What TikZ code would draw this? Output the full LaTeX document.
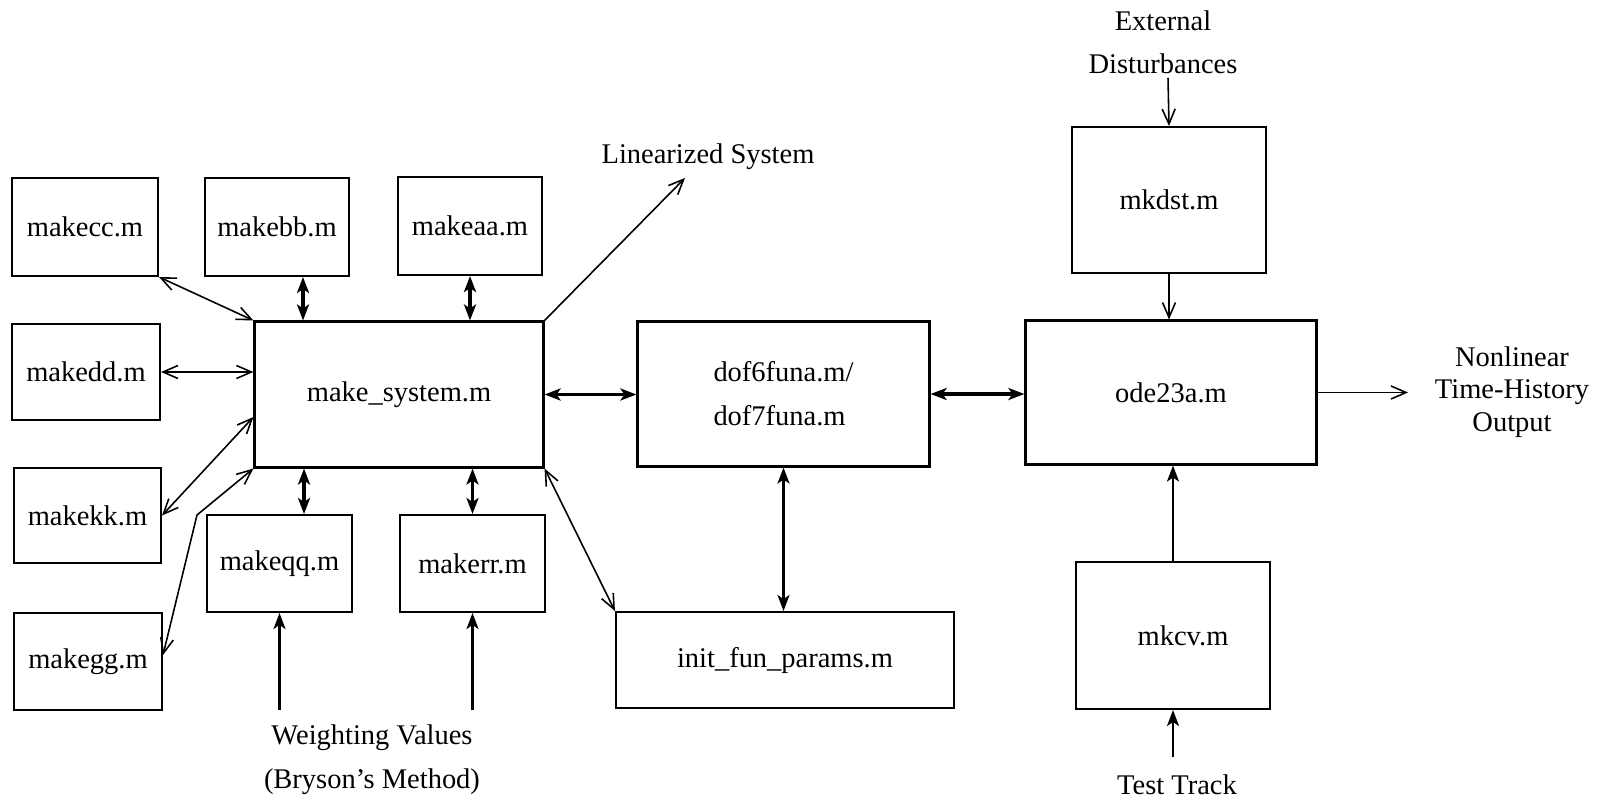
\documentclass[tikz,border=0pt]{standalone}
\usepackage{fontspec}
\setmainfont{Liberation Serif}
\usetikzlibrary{arrows.meta,calc}
\begin{document}
\begin{tikzpicture}[
  x=0.01cm, y=-0.01cm,
  every node/.style={font=\fontsize{8.1}{12.5}\selectfont},
  box/.style={draw, line width=0.55pt, inner sep=0pt, align=center},
  mainbox/.style={box, line width=0.85pt},
  lbl/.style={inner sep=0pt, align=center},
  thinhead/.tip={Straight Barb[length=0.15cm,width=0.13cm,line width=0.45pt]},
  boldhead/.tip={Stealth[length=0.16cm,width=0.12cm,inset=0.04cm]},
  thinarr/.style={line width=0.45pt, thinhead-thinhead},
  thinone/.style={line width=0.45pt, -thinhead},
  boldarr/.style={line width=1.0pt, boldhead-boldhead},
  medarr/.style={line width=0.7pt, boldhead-boldhead},
  medone/.style={line width=0.7pt, -boldhead}
]
\useasboundingbox (0,0) rectangle (1600,800);

% boxes
\node[box, minimum width=1.46cm, minimum height=0.98cm] (cc) at (85,227) {makecc.m};
\node[box, minimum width=1.44cm, minimum height=0.98cm] (bb) at (277,227) {makebb.m};
\node[box, minimum width=1.44cm, minimum height=0.98cm] (aa) at (470,226) {makeaa.m};
\node[box, minimum width=1.48cm, minimum height=0.96cm] (dd) at (86,372) {makedd.m};
\node[box, minimum width=1.47cm, minimum height=0.95cm] (kk) at (87.5,515.5) {makekk.m};
\node[box, minimum width=1.48cm, minimum height=0.97cm] (gg) at (88,661.5) {makegg.m};
\node[mainbox, minimum width=2.88cm, minimum height=1.45cm] (sys) at (399,394.5) {make\_system.m};
\node[box, minimum width=1.45cm, minimum height=0.97cm] (qq) at (279.5,563.5) {makeqq.m};
\node[box, minimum width=1.45cm, minimum height=0.97cm] (rr) at (472.5,563.5) {makerr.m};
\node[mainbox, minimum width=2.91cm, minimum height=1.44cm, align=left] (dof) at (783.5,394) {dof6funa.m/\\dof7funa.m};
\node[box, minimum width=3.38cm, minimum height=0.96cm] (init) at (785,660) {init\_fun\_params.m};
\node[box, minimum width=1.94cm, minimum height=1.46cm] (dst) at (1169,200) {mkdst.m};
\node[mainbox, minimum width=2.90cm, minimum height=1.43cm] (ode) at (1171,392.5) {ode23a.m};
\node[box, minimum width=1.94cm, minimum height=1.47cm] (cv) at (1173,635.5) {\hspace*{0.2cm}mkcv.m};

% free labels
\node[lbl] (lintext) at (708,157) {Linearized System};
\node[lbl, font=\fontsize{8.1}{12.2}\selectfont] (exttext) at (1163,42.5) {External\\Disturbances};
\node[lbl, font=\fontsize{8.1}{9.25}\selectfont] (outtext) at (1512,392) {Nonlinear\\Time-History\\Output};
\node[lbl, font=\fontsize{8.1}{12.5}\selectfont] (wtext) at (372,760) {Weighting Values\\(Bryson’s Method)};
\node[lbl] (tttext) at (1177,785) {Test Track};

% free ends
\coordinate (lin) at (685,178);
\coordinate (extend) at (1168,78);
\coordinate (outend) at (1408,392.5);
\coordinate (w1) at (279.5,710);
\coordinate (w2) at (472.5,710);
\coordinate (ttend) at (1173,757);
\coordinate (gbend) at (197,515);
\coordinate (bbx) at ([xshift=0.26cm]bb.south);
\coordinate (qqx) at ([xshift=0.245cm]qq.north);
\coordinate (kkend) at ([yshift=-0.225cm]sys.west);
\coordinate (ggstart) at ([yshift=0.065cm]gg.east);

% connectors on the left
\draw[thinarr] (cc.south east) -- (sys.north west);
\draw[boldarr] (bbx) -- (bbx |- sys.north);
\draw[boldarr] (aa.south) -- (aa.south |- sys.north);
\draw[thinarr] (dd.east) -- (dd.east -| sys.west);
\draw[thinarr] (kk.east) -- (kkend);
\draw[thinarr] (ggstart) -- (gbend) -- (sys.south west);
\draw[boldarr] (qqx) -- (qqx |- sys.south);
\draw[boldarr] (rr.north) -- (rr.north |- sys.south);
\draw[medone] (w1) -- (qq.south);
\draw[medone] (w2) -- (rr.south);

% middle
\draw[thinone] (sys.north east) -- (lin);
\draw[boldarr] (sys.east) -- (sys.east -| dof.west);
\draw[thinarr] (sys.south east) -- (init.north west);
\draw[medarr] (dof.south) -- (dof.south |- init.north);
\draw[boldarr] (dof.east) -- (dof.east -| ode.west);

% right
\draw[thinone] (extend) -- (dst.north);
\draw[thinone] (dst.south) -- (dst.south |- ode.north);
\draw[thinone] (ode.east) -- (outend);
\draw[medone] (cv.north) -- (cv.north |- ode.south);
\draw[medone] (ttend) -- (cv.south);
\end{tikzpicture}
\end{document}
